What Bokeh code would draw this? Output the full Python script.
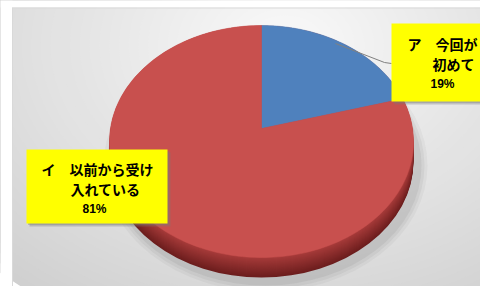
import numpy as np
from bokeh.plotting import figure
from bokeh.models import Range1d
from bokeh.core.properties import value
from bokeh.embed import file_html
from bokeh.resources import INLINE

# ---- data ----
categories = ["ア　今回が初めて", "イ　以前から受け入れている"]
values = [19, 81]
label_lines = [["ア　今回が", "初めて"], ["イ　以前から受け", "入れている"]]
colors = ["#4f81bd", "#c8504e"]

W, H = 480, 286
p = figure(width=W, height=H, output_backend="svg", toolbar_location=None,
           x_range=Range1d(0, W), y_range=Range1d(H, 0),
           min_border=0, outline_line_color=None)
p.axis.visible = False
p.grid.visible = False
p.background_fill_color = "white"
p.border_fill_color = "white"

# ---- background radial gradient ----
n = 40
for i in range(n):
    t = i / (n - 1)
    s = 1 - t
    w = 80 + s * 760
    h = 60 + s * 560
    c = int(round(0xd0 + (0xf6 - 0xd0) * t))
    col = "#%02x%02x%02x" % (c, c, c)
    p.ellipse(x=285, y=45, width=w, height=h, fill_color=col, line_color=None)
# white margin left/top of chart area
p.quad(left=0, right=12, top=0, bottom=H, fill_color="white", line_color=None)
p.quad(left=0, right=W, top=0, bottom=7, fill_color="white", line_color=None)
p.line(x=[12, 12], y=[7, H], line_color="#d9d9d9", line_width=1)
p.line(x=[12, W], y=[7.5, 7.5], line_color="#d9d9d9", line_width=1)

# ---- pie geometry ----
cx, cy, rx, ry = 261, 141, 152, 116
vx, vy = 261, 128
depth = 20

# shadow
for k, a in [(10, 0.05), (7, 0.07), (4, 0.09)]:
    p.ellipse(x=cx + 4, y=cy + depth + 4, width=2 * (rx + k), height=2 * (ry + k),
              fill_color="#555555", fill_alpha=a, line_color=None)

# side (vertical gradient)
for k in range(depth, -1, -1):
    t = k / depth
    r = int(0xa8 + (0x6c - 0xa8) * t)
    g = int(0x3c + (0x1e - 0x3c) * t)
    b = int(0x3b + (0x1e - 0x3b) * t)
    p.ellipse(x=cx, y=cy + k, width=2 * rx, height=2 * ry,
              fill_color="#%02x%02x%02x" % (r, g, b), line_color=None)

# top face wedges
total = float(sum(values))
cum = np.concatenate([[0], np.cumsum(values)]) / total
xs, ys = [], []
for i in range(len(values)):
    th = np.linspace(cum[i] * 2 * np.pi, cum[i + 1] * 2 * np.pi, 200)
    px = cx + rx * np.sin(th)
    py = cy - ry * np.cos(th)
    xs.append(np.concatenate([[vx], px]).tolist())
    ys.append(np.concatenate([[vy], py]).tolist())
p.patches(xs=xs, ys=ys, fill_color=colors, line_color=colors, line_width=0.5)

# ---- leader line ----
p.line(x=[335, 384, 391], y=[43, 62, 63], line_color="#808080", line_width=1)

# ---- label boxes ----
boxes = [(391, 494, 23, 101), (26, 167, 149, 223)]
for (l, r, t, b) in boxes:
    p.quad(left=l + 3, right=r + 3, top=t + 3, bottom=b + 3,
           fill_color="#777777", fill_alpha=0.35, line_color=None)
    p.quad(left=l + 1.5, right=r + 1.5, top=t + 1.5, bottom=b + 1.5,
           fill_color="#777777", fill_alpha=0.35, line_color=None)
    p.quad(left=l, right=r, top=t, bottom=b, fill_color="#ffff00", line_color=None)

pos = [[(407, 43), (432, 63), (430, 83)], [(41, 168), (70, 188), (82, 208)]]
font = value("Noto Sans CJK JP")
for i in range(len(values)):
    lines = label_lines[i]
    for j, txt in enumerate(lines):
        x, y = pos[i][j]
        p.text(x=[x], y=[y], text=[txt], text_font=font, text_font_size="14px",
               text_font_style="bold", text_color="black",
               text_align="left", text_baseline="middle")
    pct = "%d%%" % round(values[i] / total * 100)
    x, y = pos[i][2]
    p.text(x=[x], y=[y], text=[pct], text_font=value("Liberation Sans"),
           text_font_size="12px", text_font_style="bold", text_color="black",
           text_align="left", text_baseline="middle")

open("out.html", "w").write(file_html(p, INLINE))
